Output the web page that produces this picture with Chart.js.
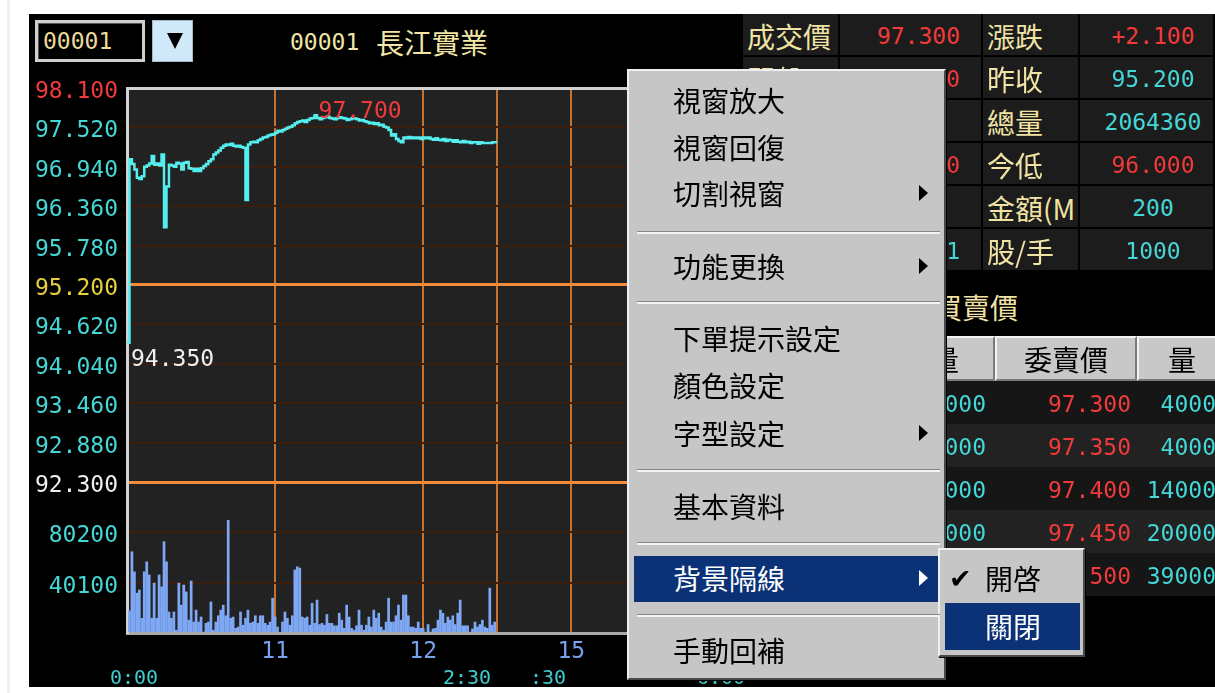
<!DOCTYPE html>
<html>
<head>
<meta charset="utf-8">
<script src="https://cdn.jsdelivr.net/npm/chart.js@4/dist/chart.umd.min.js"></script>
<style>
body { margin: 0; width: 1215px; height: 693px; overflow: hidden; position: relative; background: #fff; }
div { position: absolute; white-space: nowrap; }
.n { font-family: "DejaVu Sans Mono", monospace; font-size: 23px; }
.s { font-family: "DejaVu Sans Mono", monospace; font-size: 20px; }
.c { font-family: "Noto Sans CJK TC", sans-serif; font-size: 28px; }
#strip { left: 7px; top: 0; width: 3px; height: 693px; background: #efefef; }
#panel { left: 29px; top: 14px; width: 1186px; height: 673px; background: #000; }
#chartBox { left: 29px; top: 78px; width: 716px; height: 610px; }
#codeBox { left: 35px; top: 20px; width: 104px; height: 36px; border: 3px solid #cfcfcf; box-shadow: inset 1px 1px 0 #555; background: #000; }
#dropBtn { left: 152px; top: 20px; width: 39px; height: 40px; background: #cfe9f8; border: 1px solid #9fb9c9; }
#dropBtn i { position: absolute; left: 14px; top: 12px; width: 0; height: 0; border-left: 8px solid transparent; border-right: 8px solid transparent; border-top: 16px solid #000; }
#menu { left: 627px; top: 69px; width: 315px; height: 607px; background: #c6c6c6; border: 2px solid; border-color: #efefef #4a4a4a #4a4a4a #efefef; box-shadow: 1px 1px 0 #000; z-index: 5; }
#sub { left: 938px; top: 548px; width: 143px; height: 105px; background: #c6c6c6; border: 2px solid; border-color: #efefef #4a4a4a #4a4a4a #efefef; box-shadow: 1px 1px 0 #000; z-index: 6; }
.sep { height: 1px; background: #868686; border-bottom: 2px solid #f4f4f4; z-index: 7; }
.arrow { width: 0; height: 0; border-top: 8px solid transparent; border-bottom: 8px solid transparent; border-left: 9px solid #000; z-index: 8; }
.hi { background: #0b3276; z-index: 7; }
.cell { background: #1c1c1c; box-shadow: inset -2px -2px 0 #000; }
.head { background: #c8c8c8; border: 2px solid; border-color: #f2f2f2 #7a7a7a #7a7a7a #f2f2f2; box-sizing: border-box; }
</style>
</head>
<body>
<div id="strip"></div>
<div id="panel"></div>
<div id="codeBox"></div>
<div id="dropBtn"><i></i></div>
<div id="chartBox"><canvas id="chart" width="716" height="610"></canvas></div>
<div id="menu"></div>
<div id="sub"></div>
<script>
// price axis ticks (top to bottom), volume ticks, time ticks in minutes after 10:00
const priceTicks = [98.1, 97.52, 96.94, 96.36, 95.78, 95.2, 94.62, 94.04, 93.46, 92.88, 92.3];
const volumeTicks = [0, 40100, 80200, 120300];
const timeTicks = [60, 120, 150, 180, 240];
const timeLabels = ['11', '12', '', '15', ''];
const prevClose = 95.2;

// one price per minute from 10:00 to 12:30
const prices = [
  94.35, 97.05, 96.98, 96.90, 96.78, 96.76, 96.80, 96.94, 96.96, 96.99,
  97.10, 96.97, 96.99, 96.96, 97.12, 96.05, 96.65, 96.97, 96.96, 96.94,
  97.00, 96.99, 96.90, 97.00, 97.01, 96.92, 96.91, 96.88, 96.91, 96.88,
  96.92, 96.95, 96.98, 97.02, 97.05, 97.12, 97.15, 97.18, 97.22, 97.25,
  97.27, 97.26, 97.28, 97.25, 97.24, 97.25, 97.23, 97.22, 96.45, 97.27,
  97.30, 97.31, 97.30, 97.33, 97.35, 97.37, 97.38, 97.40, 97.41, 97.42,
  97.44, 97.47, 97.46, 97.48, 97.50, 97.52, 97.53, 97.55, 97.58, 97.60,
  97.61, 97.62, 97.60, 97.63, 97.65, 97.66, 97.70, 97.66, 97.64, 97.66,
  97.67, 97.68, 97.66, 97.65, 97.64, 97.66, 97.67, 97.66, 97.65, 97.63,
  97.64, 97.66, 97.65, 97.64, 97.62, 97.63, 97.61, 97.60, 97.58, 97.59,
  97.57, 97.58, 97.55, 97.56, 97.53, 97.52, 97.48, 97.40, 97.42, 97.35,
  97.32, 97.30, 97.37, 97.36, 97.38, 97.36, 97.37, 97.36, 97.37, 97.35,
  97.37, 97.36, 97.37, 97.35, 97.34, 97.36, 97.34, 97.33, 97.35, 97.32,
  97.34, 97.33, 97.31, 97.33, 97.31, 97.30, 97.32, 97.30, 97.31, 97.29,
  97.30, 97.30, 97.28, 97.30, 97.29, 97.29, 97.29, 97.29, 97.30, 97.30,
  97.30
];

// volume per minute, minutes 1..149
const volumes = [
  18000, 65000, 49000, 32000, 34500, 12000, 49000, 57000, 46500, 12000,
  40000, 12000, 46500, 37000, 73000, 57000, 17000, 12000, 17000, 2500,
  40000, 22500, 38500, 33000, 10500, 41700, 9000, 18500, 9000, 13000,
  1000, 8000, 9000, 25000, 2500, 9000, 14000, 18500, 22500, 14000,
  90000, 12000, 13000, 4000, 5000, 17000, 6500, 12000, 18500, 8000,
  9000, 14000, 8000, 14000, 14000, 8000, 6500, 9000, 28000, 13000,
  5000, 800, 9000, 17000, 12000, 6500, 14000, 50500, 53000, 52000,
  13000, 12000, 13000, 6500, 24000, 8000, 26500, 7000, 8000, 6500,
  15000, 8000, 8000, 6000, 6000, 16000, 10500, 4000, 22500, 13000,
  4000, 2500, 6000, 18500, 6500, 2500, 6500, 13000, 5000, 18500,
  12000, 16000, 5000, 2500, 9000, 28000, 9000, 9000, 14000, 22500,
  10500, 30500, 30500, 14000, 5000, 5000, 4000, 9000, 4000, 4000,
  1000, 7000, 1000, 3500, 4000, 10500, 18500, 16000, 8000, 13000,
  10500, 14000, 7000, 16000, 26500, 6000, 6000, 6000, 1000, 3500,
  9000, 5000, 7000, 10500, 5000, 4000, 36000, 6500, 9000
];

const quoteRows = [
  ['成交價', '97.300', 'r', '漲跌', '+2.100', 'r'],
  ['開盤', '96.500', 'r', '昨收', '95.200', 'c'],
  ['均價', '', 'c', '總量', '2064360', 'c'],
  ['今高', '97.700', 'r', '今低', '96.000', 'r'],
  ['單量', '', 'c', '金額(M', '200', 'c'],
  ['筆數', '2831', 'c', '股/手', '1000', 'c']
];
const bookRows = [
  ['97.250', '12000', '97.300', '4000'],
  ['97.200', '30000', '97.350', '4000'],
  ['97.150', '26000', '97.400', '14000'],
  ['97.100', '48000', '97.450', '20000'],
  ['97.050', '16000', '97.500', '39000']
];
const menuItems = [
  ['視窗放大', 100, false], ['視窗回復', 147, false], ['切割視窗', 193, true],
  ['功能更換', 266, true], ['下單提示設定', 338, false], ['顏色設定', 385, false],
  ['字型設定', 433, true], ['基本資料', 506, false], ['背景隔線', 578, true],
  ['手動回補', 650, false]
];
const menuSeps = [232, 302, 470, 543, 615];

const RED = '#f23a3a', CYAN = '#45d6d6', YEL = '#f0e3a3';

function put(text, x, yc, cls, color, align, z) {
  const d = document.createElement('div');
  d.className = cls;
  d.textContent = text;
  d.style.top = (yc - 20) + 'px';
  d.style.lineHeight = '40px';
  d.style.color = color;
  if (align === 'right') { d.style.left = (x - 300) + 'px'; d.style.width = '300px'; d.style.textAlign = 'right'; }
  else if (align === 'center') { d.style.left = (x - 150) + 'px'; d.style.width = '300px'; d.style.textAlign = 'center'; }
  else d.style.left = x + 'px';
  if (z) d.style.zIndex = z;
  document.body.appendChild(d);
  return d;
}
function box(cls, x, y, w, h, z) {
  const d = document.createElement('div');
  d.className = cls;
  Object.assign(d.style, { left: x + 'px', top: y + 'px', width: w + 'px', height: h + 'px' });
  if (z) d.style.zIndex = z;
  document.body.appendChild(d);
  return d;
}

// header
put('00001', 43, 41, 'n', '#e9dd9a');
put('00001', 290, 42, 'n', '#f2e6a6');
put('長江實業', 376, 42, 'c', '#f2e6a6');

// quote grid
const colX = [743, 840, 983, 1080, 1215];
quoteRows.forEach((r, i) => {
  const y = 14 + i * 43;
  for (let c = 0; c < 4; c++) box('cell', colX[c], y, colX[c + 1] - colX[c], 43);
  const yc = y + 22;
  put(r[0], 747, yc, 'c', YEL);
  put(r[1], 960, yc, 'n', r[2] === 'r' ? RED : CYAN, 'right');
  put(r[3], 987, yc, 'c', YEL);
  put(r[4], 1153, yc, 'n', r[5] === 'r' ? RED : CYAN, 'center');
});

// order book
put('五檔買賣價', 878, 307, 'c', YEL);
const bookX = [743, 895, 995, 1137, 1240];
['委買價', '量', '委賣價', '量'].forEach((t, c) => {
  box('head', bookX[c], 336, bookX[c + 1] - bookX[c], 45);
  put(t, (bookX[c] + Math.min(bookX[c + 1], 1227)) / 2, 359, 'c', '#000', 'center');
});
bookRows.forEach((r, i) => {
  const y = 381 + i * 43;
  box('', 743, y, 472, 43).style.background = i % 2 ? '#222' : '#161616';
  const yc = y + 23;
  put(r[0], 880, yc, 'n', CYAN, 'right');
  put(r[1], 986, yc, 'n', CYAN, 'right');
  put(r[2], 1131, yc, 'n', RED, 'right');
  put(r[3], 1216, yc, 'n', CYAN, 'right');
});

// clipped session labels under the time axis
[['0:00', 110], ['2:30', 443], [':30', 530], ['6:00', 697]].forEach(([t, x]) => put(t, x, 677, 's', '#3fcccc'));

// context menu
menuSeps.forEach(y => box('sep', 637, y - 1, 303, 1));
box('hi', 634, 556, 304, 46);
menuItems.forEach(([t, y, hasSub]) => {
  const sel = t === '背景隔線';
  put(t, 673, y, 'c', sel ? '#fff' : '#000', 'left', 8);
  if (hasSub) {
    const a = box('arrow', 919, y - 8, 0, 0);
    if (sel) a.style.borderLeftColor = '#fff';
  }
});
box('hi', 945, 603, 135, 47).style.zIndex = 7;
const tick = put('✔', 949, 579, 'n', '#000', 'left', 8);
tick.style.fontFamily = '"DejaVu Sans"';
tick.style.fontSize = '27px';
put('開啓', 985, 578, 'c', '#000', 'left', 8);
put('關閉', 985, 626, 'c', '#fff', 'left', 8);

// chart
const near = (a, b) => Math.abs(a - b) < 1e-6;
const bgPlugin = {
  id: 'plotBg',
  beforeDraw(chart) {
    const { ctx, chartArea: a } = chart;
    ctx.save();
    ctx.fillStyle = '#222222';
    ctx.fillRect(a.left, a.top, a.right - a.left, a.bottom - a.top);
    ctx.restore();
  }
};
const hiLoPlugin = {
  id: 'hiLo',
  afterDatasetsDraw(chart) {
    const { ctx, scales } = chart;
    const hi = Math.max(...prices), lo = Math.min(...prices);
    const hiI = prices.indexOf(hi), loI = prices.indexOf(lo);
    ctx.save();
    ctx.font = '23px "DejaVu Sans Mono"';
    ctx.textAlign = 'left';
    ctx.textBaseline = 'middle';
    ctx.fillStyle = RED;
    ctx.fillText(hi.toFixed(3), scales.x.getPixelForValue(hiI) + 4, scales.yp.getPixelForValue(hi) - 3);
    ctx.fillStyle = '#f0f0f0';
    ctx.fillText(lo.toFixed(3), scales.x.getPixelForValue(loI) + 4, scales.yp.getPixelForValue(lo) + 17);
    ctx.restore();
  }
};

// fixed axis boxes so the plot sits where the original does
const fitY = s => { s.width = 98; s.paddingTop = 0; s.paddingBottom = 0; };
const tickFont = { family: 'DejaVu Sans Mono', size: 23 };
new Chart(document.getElementById('chart'), {
  type: 'bar',
  data: {
    datasets: [
      {
        type: 'line',
        data: prices.map((p, i) => ({ x: i, y: p })),
        yAxisID: 'yp',
        borderColor: '#55eeee',
        borderWidth: 2.5,
        pointRadius: 0,
        stepped: 'before'
      },
      {
        type: 'bar',
        data: volumes.map((v, i) => ({ x: i + 1, y: v })),
        yAxisID: 'yv',
        backgroundColor: '#7ea7f4',
        borderWidth: 0,
        barPercentage: 1.1,
        categoryPercentage: 1,
        grouped: false
      }
    ]
  },
  options: {
    responsive: false,
    devicePixelRatio: 1,
    animation: false,
    layout: { padding: { top: 10, right: 1, left: 0, bottom: 0 } },
    plugins: { legend: { display: false }, tooltip: { enabled: false } },
    scales: {
      x: {
        type: 'linear', min: 0, max: 250, offset: false,
        afterBuildTicks: s => { s.ticks = timeTicks.map(v => ({ value: v })); },
        afterFit: s => { s.height = 55; s.paddingLeft = 0; s.paddingRight = 0; },
        grid: { color: '#c67230', lineWidth: 2, drawTicks: false, offset: false },
        border: { color: '#a9a9a9', width: 3 },
        ticks: { color: '#78a2ee', font: tickFont, padding: 5, maxRotation: 0, autoSkip: false,
                 callback: (v, i) => timeLabels[i] }
      },
      yv: {
        type: 'linear', position: 'left', stack: 'main', stackWeight: 151,
        min: 0, max: 120300,
        afterBuildTicks: s => { s.ticks = volumeTicks.map(v => ({ value: v })); },
        afterFit: fitY,
        grid: {
          drawTicks: false, lineWidth: 2,
          color: c => (c.tick.value === 0 || c.tick.value === 120300) ? 'rgba(0,0,0,0)' : '#3b1e0c'
        },
        border: { color: '#d2d2d2', width: 3 },
        ticks: {
          font: tickFont, padding: 9, labelOffset: 4, autoSkip: false, color: CYAN,
          callback: v => (v === 0 || v === 120300) ? '' : String(v)
        }
      },
      yp: {
        type: 'linear', position: 'left', stack: 'main', stackWeight: 394,
        min: 92.3, max: 98.1,
        afterBuildTicks: s => { s.ticks = priceTicks.map(v => ({ value: v })); },
        afterFit: fitY,
        grid: {
          drawTicks: false,
          color: c => near(c.tick.value, 98.1) ? '#d2d2d2' : (near(c.tick.value, prevClose) || near(c.tick.value, 92.3)) ? '#f08c3c' : '#3b1e0c',
          lineWidth: c => (near(c.tick.value, 98.1) || near(c.tick.value, prevClose) || near(c.tick.value, 92.3)) ? 3 : 2
        },
        border: { color: '#d2d2d2', width: 3 },
        ticks: {
          font: tickFont, padding: 9, labelOffset: 4, autoSkip: false,
          color: c => near(c.tick.value, 98.1) ? RED : near(c.tick.value, prevClose) ? '#e6d040' : near(c.tick.value, 92.3) ? '#eeeeee' : CYAN,
          callback: v => v.toFixed(3)
        }
      }
    }
  },
  plugins: [bgPlugin, hiLoPlugin]
});
</script>
</body>
</html>
